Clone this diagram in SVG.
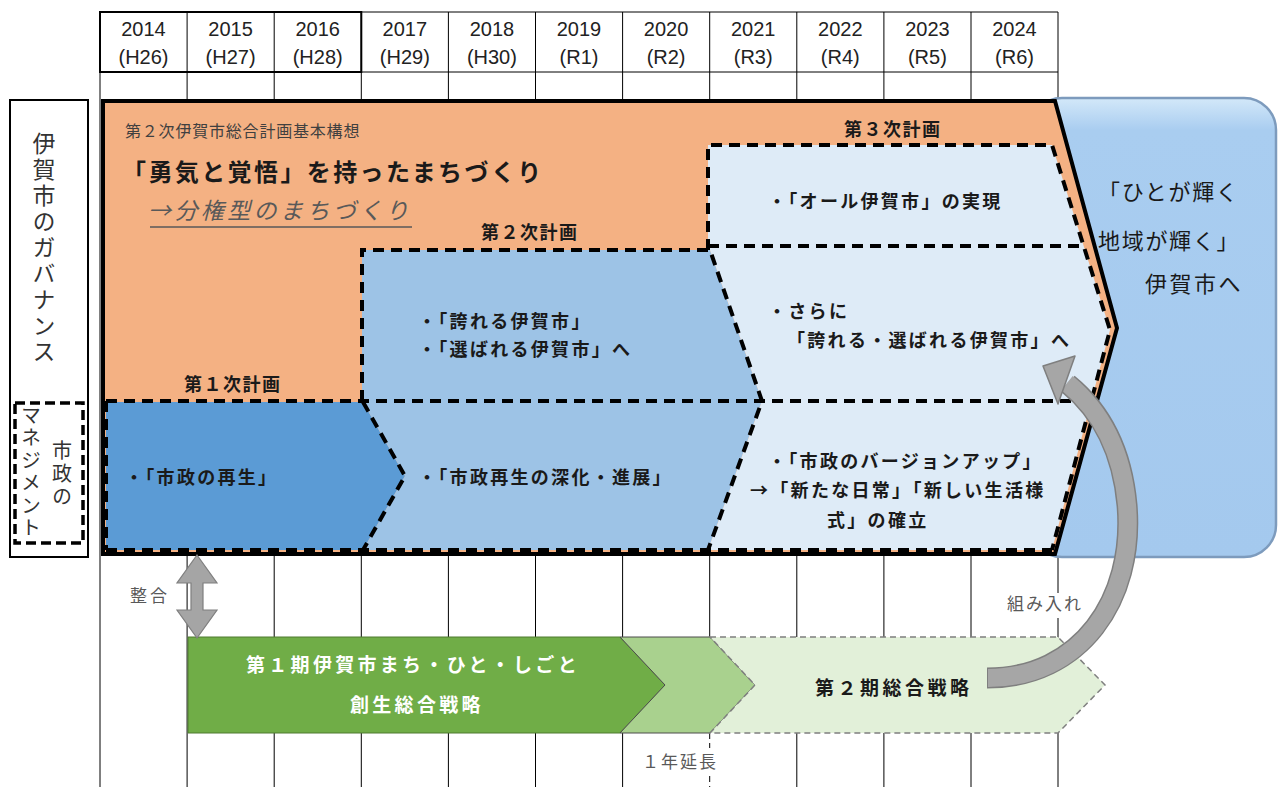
<svg xmlns="http://www.w3.org/2000/svg" width="1279" height="787" viewBox="0 0 1279 787">
<defs>
<style>
.jp{font-family:"Noto Sans CJK JP","Noto Sans",sans-serif}
.yr{font-family:"Liberation Sans Narrow","Liberation Sans",Arial,sans-serif;font-size:20px;fill:#222;text-anchor:middle}
.grid{stroke:#000;stroke-width:1;fill:none}
.dash{fill:none;stroke:#000;stroke-width:4;stroke-dasharray:11 7}
.plan{font-family:"Noto Sans CJK JP","Noto Sans",sans-serif;font-size:18px;font-weight:bold;letter-spacing:2.3px;fill:#1a1a1a}
.lbl{font-family:"Noto Sans CJK JP","Noto Sans",sans-serif;font-size:18px;font-weight:bold;letter-spacing:1.5px;fill:#1a1a1a}
.note{font-family:"Noto Sans CJK JP","Noto Sans",sans-serif;font-size:17px;fill:#595959}
.vt{font-family:"Noto Sans CJK JP","Noto Sans",sans-serif;writing-mode:vertical-rl;fill:#333}
.vis{font-family:"Noto Sans CJK JP","Noto Sans",sans-serif;font-size:22px;letter-spacing:1.7px;fill:#1a1a1a}
.grn{font-family:"Noto Sans CJK JP","Noto Sans",sans-serif;font-size:19px;font-weight:bold;letter-spacing:3.3px}
</style>
<linearGradient id="bg" x1="0" y1="0" x2="0" y2="1">
<stop offset="0" stop-color="#d3e8f9"/>
<stop offset="0.07" stop-color="#a9cdf0"/>
<stop offset="1" stop-color="#a4c9ee"/>
</linearGradient>
</defs>
<rect width="1279" height="787" fill="#fff"/>

<g id="grid">
<path class="grid" d="M100,12H1058M100,72H1058"/>
<path class="grid" d="M100,12V787M187.1,12V101M274.2,12V101M361.3,12V101M448.4,12V101M535.5,12V101M622.6,12V101M709.7,12V101M796.8,12V101M883.9,12V101M971,12V101M1058,12V101"/>
<path class="grid" d="M187.1,554V787M274.2,554V787M361.3,554V787M448.4,554V787M535.5,554V787M622.6,554V787M709.7,554V637M796.8,554V787M883.9,554V787M971,554V787M1058,554V593M1058,618V787"/>
<path d="M709.7,733V748M709.7,776V787" fill="none" stroke="#000" stroke-width="1" stroke-dasharray="6 4"/>
<rect x="100" y="12" width="261.3" height="60" fill="none" stroke="#000" stroke-width="2"/>
</g>

<g id="years">
<text class="yr" x="143.5" y="36">2014</text><text class="yr" x="143.5" y="64">(H26)</text>
<text class="yr" x="230.6" y="36">2015</text><text class="yr" x="230.6" y="64">(H27)</text>
<text class="yr" x="317.7" y="36">2016</text><text class="yr" x="317.7" y="64">(H28)</text>
<text class="yr" x="404.8" y="36">2017</text><text class="yr" x="404.8" y="64">(H29)</text>
<text class="yr" x="491.9" y="36">2018</text><text class="yr" x="491.9" y="64">(H30)</text>
<text class="yr" x="579" y="36">2019</text><text class="yr" x="579" y="64">(R1)</text>
<text class="yr" x="666.1" y="36">2020</text><text class="yr" x="666.1" y="64">(R2)</text>
<text class="yr" x="753.2" y="36">2021</text><text class="yr" x="753.2" y="64">(R3)</text>
<text class="yr" x="840.3" y="36">2022</text><text class="yr" x="840.3" y="64">(R4)</text>
<text class="yr" x="927.4" y="36">2023</text><text class="yr" x="927.4" y="64">(R5)</text>
<text class="yr" x="1014.5" y="36">2024</text><text class="yr" x="1014.5" y="64">(R6)</text>
</g>

<g id="governance">
<rect x="10" y="100" width="78" height="457" fill="#fff" stroke="#000" stroke-width="2"/>
<text class="vt" x="44" y="132" style="font-size:23px;letter-spacing:3px">伊賀市のガバナンス</text>
<rect x="15" y="403" width="68" height="140" fill="none" stroke="#000" stroke-width="3.5" stroke-dasharray="10 5"/>
<text class="vt" x="62" y="440" style="font-size:20px;letter-spacing:3px">市政の</text>
<text class="vt" x="31" y="405" style="font-size:20px;letter-spacing:2.5px">マネジメント</text>
</g>

<g id="vision">
<rect x="1030" y="98" width="246" height="459" rx="32" fill="url(#bg)" stroke="#7d9bbd" stroke-width="2.5"/>
<text class="vis" x="1098" y="200">「ひとが輝く</text>
<text class="vis" x="1098" y="249">地域が輝く」</text>
<text class="vis" x="1145" y="292" style="letter-spacing:2.5px">伊賀市へ</text>
</g>

<g id="basic-plan">
<polygon points="103,101 1055,101 1117,328 1055,554 103,554" fill="#f4b183"/>
<text class="jp" x="125" y="137" style="font-size:16px;letter-spacing:0.8px;fill:#404040">第２次伊賀市総合計画基本構想</text>
<text class="jp" x="122" y="181" style="font-size:24px;font-weight:bold;letter-spacing:2.4px;fill:#1a1a1a">「勇気と覚悟」を持ったまちづくり</text>
<text class="jp" x="148" y="219" style="font-size:23px;font-style:italic;letter-spacing:3.4px;fill:#595959">→分権型のまちづくり</text>
<line x1="150" y1="227" x2="412" y2="227" stroke="#595959" stroke-width="1.5"/>
</g>

<g id="plan1">
<polygon points="106,402 363,402 405,476 363,550 106,550" fill="#5b9bd5"/>
<text class="lbl" x="184" y="391">第１次計画</text>
<text class="plan" x="125" y="484">・「市政の再生」</text>
</g>

<g id="plan2">
<polygon points="362,250 710,250 762,401 708,550 363,550 405,476 363,402 362,402" fill="#9dc3e6"/>
<text class="lbl" x="481" y="239">第２次計画</text>
<text class="plan" x="418" y="328">・「誇れる伊賀市」</text>
<text class="plan" x="418" y="356">・「選ばれる伊賀市」へ</text>
<text class="plan" x="418" y="484">・「市政再生の深化・進展」</text>
</g>

<g id="plan3">
<polygon points="708,145 1052,145 1110,330 1052,550 708,550 762,401 710,250 708,250" fill="#deebf7"/>
<text class="lbl" x="844" y="136">第３次計画</text>
<text class="plan" x="768" y="208">・「オール伊賀市」の実現</text>
<text class="plan" x="768" y="318">・さらに</text>
<text class="plan" x="787" y="347">「誇れる・選ばれる伊賀市」へ</text>
<text class="plan" x="768" y="468">・「市政のバージョンアップ」</text>
<text class="plan" x="750" y="497">→「新たな日常」「新しい生活様</text>
<text class="plan" x="827" y="527">式」の確立</text>
</g>

<g id="plan-borders">
<path class="dash" d="M106,401H1092M106,550H1052M106,401V550M363,402L405,476L363,550"/>
<path class="dash" d="M362,401V250H710L762,401L708,550"/>
<path class="dash" d="M708,250V145H1052L1110,330L1052,550M708,246H1083"/>
<polygon points="103,101 1055,101 1117,328 1055,554 103,554" fill="none" stroke="#000" stroke-width="4"/>
</g>

<g id="strategy1">
<polygon points="188,637 620,637 665,685 620,733 188,733" fill="#70ad47" stroke="#4e7a30" stroke-width="1"/>
<text class="grn" x="246" y="672" fill="#fff">第１期伊賀市まち・ひと・しごと</text>
<text class="grn" x="350" y="712" fill="#fff">創生総合戦略</text>
</g>
<g id="strategy-ext">
<polygon points="620,637 710,637 755,685 710,733 620,733 665,685" fill="#a9d18e" stroke="#4d4d4d" stroke-width="1"/>
<text class="note" x="642" y="768" style="letter-spacing:2px">１年延長</text>
</g>
<g id="strategy2">
<polygon points="710,637 1058,637 1105,685 1058,733 710,733 755,685" fill="#e2f0d9" stroke="#7f7f7f" stroke-width="1.5" stroke-dasharray="6 4"/>
<text class="grn" x="815" y="695" fill="#1a1a1a" style="letter-spacing:3.5px">第２期総合戦略</text>
</g>

<g id="connectors">
<polygon points="197,555 217,583 203,583 203,610 217,610 197,638 177,610 191,610 191,583 177,583" fill="#a5a5a5" stroke="#7f7f7f" stroke-width="1.2"/>
<text class="note" x="130" y="602" style="letter-spacing:3px">整合</text>
<text class="note" x="1007" y="610" style="letter-spacing:2px">組み入れ</text>
<path d="M987,678C1080,678 1135,600 1127,505C1122,450 1100,410 1068,384" fill="none" stroke="#7f7f7f" stroke-width="21"/>
<path d="M988,678C1080,678 1135,600 1127,505C1122,450 1100,410 1067,383" fill="none" stroke="#a6a6a6" stroke-width="18"/>
<polygon points="1043,366 1075,356 1058,404" fill="#a6a6a6" stroke="#7f7f7f" stroke-width="1.5" stroke-linejoin="round"/>
</g>
</svg>
